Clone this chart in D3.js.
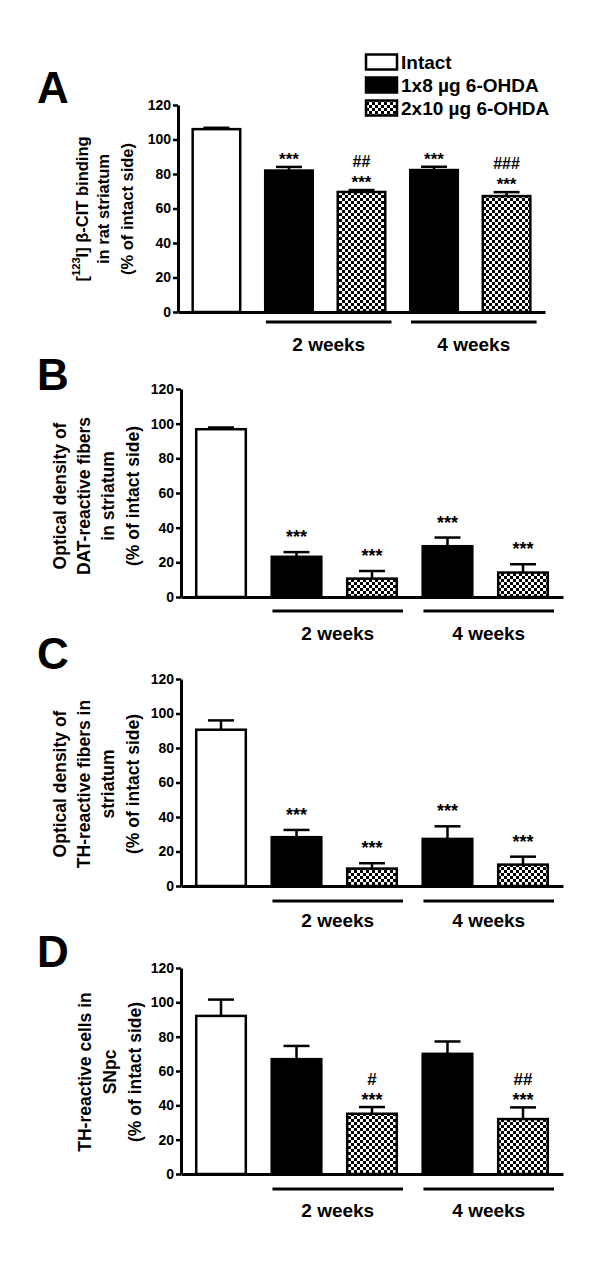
<!DOCTYPE html>
<html><head><meta charset="utf-8">
<script src="https://cdn.jsdelivr.net/npm/d3@7"></script>
<style>
body{margin:0;background:#fff;}
text{font-family:"Liberation Sans",Arial,sans-serif;font-weight:bold;fill:#000;}
</style></head>
<body>
<script>
// ---------- data ----------
const categories = ["Intact", "1x8 2 weeks", "2x10 2 weeks", "1x8 4 weeks", "2x10 4 weeks"];
const categoryFill = ["intact", "dose1", "dose2", "dose1", "dose2"];
const legendLabels = ["Intact", "1x8 µg 6-OHDA", "2x10 µg 6-OHDA"];
const legendFill = ["intact", "dose1", "dose2"];
const weekLabels = ["2 weeks", "4 weeks"];
const weekMembers = [[1, 2], [3, 4]];
const yTicks = [0, 20, 40, 60, 80, 100, 120];
const panelLetters = ["A", "B", "C", "D"];

const meanA = [106, 82, 69.6, 82.3, 67.2];
const errA  = [0.8, 2.1, 1.1, 1.9, 2.3];
const sigA  = [[], ["***"], ["##", "***"], ["***"], ["###", "***"]];
const labelA = ["[^123^I] β-CIT binding", "in rat striatum", "(% of intact side)"];

const meanB = [96.8, 23.2, 10.6, 29.3, 14.1];
const errB  = [1.0, 2.7, 4.4, 5.0, 4.8];
const sigB  = [[], ["***"], ["***"], ["***"], ["***"]];
const labelB = ["Optical density of", "DAT-reactive fibers", "in striatum", "(% of intact side)"];

const meanC = [90.6, 28.3, 10.1, 27.3, 12.4];
const errC  = [5.4, 4.2, 3.1, 7.3, 4.6];
const sigC  = [[], ["***"], ["***"], ["***"], ["***"]];
const labelC = ["Optical density of", "TH-reactive fibers in", "striatum", "(% of intact side)"];

const meanD = [92.1, 66.9, 35.1, 70.0, 32.0];
const errD  = [9.5, 7.7, 3.9, 7.2, 6.8];
const sigD  = [[], [], ["#", "***"], [], ["##", "***"]];
const labelD = ["TH-reactive cells in", "SNpc", "(% of intact side)"];

// ---------- layout ----------
const panels = [
  {mean: meanA, err: errA, sig: sigA, label: labelA, y0: 312, y1: 105, x0: 178, x1: 545,
   letterY: 103, labelXs: [82, 103, 127], labelY: 209, labelFont: 16.5, sigGap: 12, sigFont: 17,
   lineOff: 10, weekOff: 32},
  {mean: meanB, err: errB, sig: sigB, label: labelB, y0: 597, y1: 389, x0: 181, x1: 563,
   letterY: 390, labelXs: [60, 84, 108, 133], labelY: 496, labelFont: 17.5, sigGap: 19, sigFont: 18,
   lineOff: 14, weekOff: 36},
  {mean: meanC, err: errC, sig: sigC, label: labelC, y0: 886, y1: 679, x0: 181, x1: 563,
   letterY: 669, labelXs: [60, 84, 108, 133], labelY: 784, labelFont: 17.5, sigGap: 19, sigFont: 18,
   lineOff: 15, weekOff: 34},
  {mean: meanD, err: errD, sig: sigD, label: labelD, y0: 1174, y1: 968, x0: 181, x1: 563,
   letterY: 967, labelXs: [85, 110, 135], labelY: 1072, labelFont: 17.5, sigGap: 11, sigFont: 18,
   lineOff: 15, weekOff: 36}
];

const svg = d3.select("body").append("svg").attr("width", 600).attr("height", 1286);
const defs = svg.append("defs");
const pat = defs.append("pattern").attr("id", "checker").attr("patternUnits", "userSpaceOnUse")
  .attr("width", 6).attr("height", 6);
pat.append("rect").attr("width", 6).attr("height", 6).attr("fill", "#fff");
pat.append("rect").attr("width", 3).attr("height", 3).attr("fill", "#000");
pat.append("rect").attr("x", 3).attr("y", 3).attr("width", 3).attr("height", 3).attr("fill", "#000");

const fillOf = k => k === "intact" ? "#fff" : k === "dose1" ? "#000" : "url(#checker)";

function addLabelLine(sel, str, fs) {
  const parts = str.split("^");
  parts.forEach((p, i) => {
    if (!p) return;
    const t = sel.append("tspan").text(p);
    if (i % 2 === 1) t.attr("font-size", fs * 0.68).attr("baseline-shift", "super");
  });
}

panels.forEach((P, pi) => {
  const g = svg.append("g");
  const y = d3.scaleLinear().domain([0, 120]).range([P.y0, P.y1]);
  const x = d3.scaleBand().domain(categories).range([P.x0, P.x1]).paddingInner(0.31).paddingOuter(0.185);
  const bw = x.bandwidth();

  // panel letter
  g.append("text").attr("x", 37).attr("y", P.letterY).attr("font-size", 44).text(panelLetters[pi]);

  // y label
  P.label.forEach((s, i) => {
    const t = g.append("text")
      .attr("transform", `translate(${P.labelXs[i]},${P.labelY}) rotate(-90)`)
      .attr("text-anchor", "middle").attr("dominant-baseline", "central")
      .attr("font-size", P.labelFont);
    addLabelLine(t, s, P.labelFont);
  });

  // error bars (drawn first, bar covers lower part)
  const eg = g.append("g");
  categories.forEach((c, i) => {
    const cx = x(c) + bw / 2;
    const top = y(P.mean[i] + P.err[i]);
    eg.append("line").attr("x1", cx).attr("x2", cx).attr("y1", y(P.mean[i])).attr("y2", top)
      .attr("stroke", "#000").attr("stroke-width", 2.5);
    eg.append("line").attr("x1", cx - 13).attr("x2", cx + 13).attr("y1", top).attr("y2", top)
      .attr("stroke", "#000").attr("stroke-width", 2.5);
  });

  // bars
  g.append("g").selectAll("rect").data(categories).join("rect")
    .attr("x", c => x(c) + 1.25)
    .attr("width", bw - 2.5)
    .attr("y", (c, i) => y(P.mean[i]))
    .attr("height", (c, i) => y(0) - y(P.mean[i]))
    .attr("fill", (c, i) => fillOf(categoryFill[i]))
    .attr("stroke", "#000").attr("stroke-width", 2.5);

  // significance marks
  categories.forEach((c, i) => {
    const marks = P.sig[i];
    if (!marks.length) return;
    const cx = x(c) + bw / 2;
    const base = y(P.mean[i] + P.err[i]) - P.sigGap + 10;
    marks.slice().reverse().forEach((m, k) => {
      const isHash = m.startsWith("#");
      g.append("text").attr("x", cx).attr("y", base - k * 17 - (isHash ? 4 : 0))
        .attr("text-anchor", "middle").attr("font-size", isHash ? P.sigFont - 1 : P.sigFont).text(m);
    });
  });

  // y axis
  const ya = g.append("g").attr("transform", `translate(${P.x0},0)`)
    .call(d3.axisLeft(y).tickValues(yTicks).tickSize(5).tickSizeOuter(0).tickPadding(2));
  ya.select(".domain").attr("stroke-width", 3);
  ya.selectAll(".tick line").attr("stroke-width", 2.5);
  ya.selectAll(".tick text").attr("font-size", 14).attr("font-family", "Liberation Sans, Arial, sans-serif")
    .attr("font-weight", "bold").attr("fill", "#000");

  // x axis
  const xa = g.append("g").attr("transform", `translate(0,${P.y0})`)
    .call(d3.axisBottom(x).tickValues([]).tickSizeOuter(0));
  xa.select(".domain").attr("stroke-width", 3);

  // week group lines and labels
  weekMembers.forEach((mem, wi) => {
    const xa0 = x(categories[mem[0]]) + 2;
    const xa1 = x(categories[mem[1]]) + bw + 5;
    g.append("line").attr("x1", xa0).attr("x2", xa1)
      .attr("y1", P.y0 + P.lineOff).attr("y2", P.y0 + P.lineOff)
      .attr("stroke", "#000").attr("stroke-width", 3);
    g.append("text").attr("x", (xa0 + xa1) / 2).attr("y", P.y0 + P.weekOff)
      .attr("text-anchor", "middle").attr("dominant-baseline", "central")
      .attr("font-size", 19).text(weekLabels[wi]);
  });
});

// legend
const lg = svg.append("g");
legendLabels.forEach((l, i) => {
  const cy = 62 + i * 23;
  lg.append("rect").attr("x", 366).attr("y", cy - 7.5).attr("width", 31).attr("height", 15)
    .attr("fill", fillOf(legendFill[i])).attr("stroke", "#000").attr("stroke-width", 2.5);
  lg.append("text").attr("x", 401).attr("y", cy).attr("dominant-baseline", "central")
    .attr("font-size", 19).text(l);
});
</script>
</body></html>
